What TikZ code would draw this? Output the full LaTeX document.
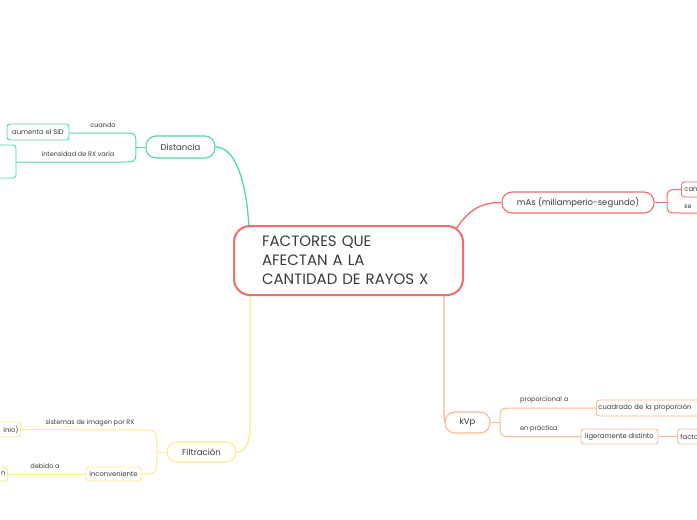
\documentclass[tikz,border=0pt]{standalone}
\usepackage{fontspec}
\setmainfont{Poppins}
\definecolor{txt}{HTML}{3A3A3A}
\definecolor{cred}{HTML}{F36B6B}
\definecolor{cgreen}{HTML}{4DD9A8}
\definecolor{cyel}{HTML}{FCEB8A}
\definecolor{corg}{HTML}{FDB98C}
\tikzset{
  mainbox/.style={draw=cred, line width=2pt, rounded corners=16pt, fill=white, text=txt,
     minimum width=229pt, minimum height=69pt, inner xsep=28pt, text width=173pt, align=left,
     font=\fontsize{15}{19}\selectfont},
  topic/.style={draw=#1, line width=1.1pt, rounded corners=10pt, fill=white, text=txt,
     inner sep=0pt, font=\fontsize{8.5}{10}\selectfont},
  sub/.style={draw=#1, line width=0.9pt, rounded corners=3pt, fill=white, text=txt,
     inner sep=0pt, font=\fontsize{6.8}{8}\selectfont},
  lbl/.style={text=txt, inner sep=0pt, font=\fontsize{6.5}{8}\selectfont},
  br/.style={draw=#1, line width=1.3pt},
  sbr/.style={draw=#1, line width=1pt},
}
\begin{document}
\begin{tikzpicture}[x=1pt,y=-1pt]
\useasboundingbox (0,0) rectangle (697,520);
\clip (0,0) rectangle (697,520);
\fill[white] (0,0) rectangle (697,520);

% main connectors (drawn first)
\coordinate (cg) at (249,228);
\coordinate (cr) at (454,232);
\coordinate (co) at (444,295);
\coordinate (cy) at (250,295);

% nodes
\node[topic=cgreen, minimum width=69pt, minimum height=22pt] (dist) at (180.5,147) {Distancia};
\node[topic=cred, minimum width=152pt, minimum height=21pt] (mas) at (578,202.5) {mAs (miliamperio-segundo)};
\node[topic=corg, minimum width=45pt, minimum height=21pt] (kvp) at (467.5,422.5) {kVp};
\node[topic=cyel, minimum width=69pt, minimum height=20pt] (filt) at (201.5,452) {Filtración};

\draw[br=cgreen] (dist.east) .. controls (238,147) and (247,190) .. (cg);
\draw[br=cred] (cr) .. controls (468,210) and (480,202.5) .. (mas.west);
\draw[br=corg] (co) -- (444,408) .. controls (444,420) and (445,422.5) .. (kvp.west);
\draw[br=cyel] (cy) -- (250,425) .. controls (250,446) and (244,452) .. (filt.east);

\node[mainbox] (main) at (348.5,260.5) {FACTORES QUE\\AFECTAN A LA\\CANTIDAD DE RAYOS X};

% Distancia branch
\node[sub=cgreen, minimum width=62pt, minimum height=16pt] (aum) at (38,132) {aumenta el SID};
\node[sub=cgreen, minimum width=56pt, minimum height=33pt] (dleft) at (-12,161.5) {};
\coordinate (dj) at (136,147);
\draw[sbr=cgreen] (dist.west) -- (dj);
\draw[sbr=cgreen] (dj) .. controls (136,133) .. (122,133) -- (aum.east |- 0,133);
\draw[sbr=cgreen] (dj) .. controls (136,162) .. (122,162) -- (dleft.east |- 0,162);
\node[lbl] (l1) at (103,125.5) {cuando};
\node[lbl] (l2) at (78,154.5) {intensidad de RX varia};

% mAs branch
\node[sub=cred, minimum width=60pt, minimum height=15pt, anchor=west, text width=54pt, align=left] (car) at (681,189.5) {can};
\coordinate (mj) at (667,202.5);
\coordinate (mend) at (705,213);
\draw[sbr=cred] (mas.east) -- (mj);
\draw[sbr=cred] (mj) .. controls (667,189.5) .. (681,189.5);
\draw[sbr=cred] (mj) .. controls (667,213) .. (681,213) -- (mend);
\node[lbl, anchor=west] (l3) at (684,207) {se};

% kVp branch
\node[sub=corg, minimum width=150pt, minimum height=16pt, anchor=west, text width=146pt, align=left] (cuad) at (596,408) {cuadrado de la proporción};
\node[sub=corg, minimum width=77pt, minimum height=15pt] (lig) at (619.5,436.5) {ligeramente distinto};
\node[sub=corg, minimum width=60pt, minimum height=15pt, anchor=west, text width=54pt, align=left] (fac) at (677,436.5) {facto};
\coordinate (kj) at (500,422.5);
\draw[sbr=corg] (kvp.east) -- (kj);
\draw[sbr=corg] (kj) .. controls (500,408) .. (514,408) -- (cuad.west);
\draw[sbr=corg] (kj) .. controls (500,436.5) .. (514,436.5) -- (lig.west);
\draw[sbr=corg] (lig.east) -- (fac.west);
\node[lbl, anchor=west] (l4) at (520,400) {proporcional a};
\node[lbl, anchor=west] (l5) at (520,429) {en práctica};

% Filtración branch
\node[sub=cyel, minimum width=60pt, minimum height=15pt, anchor=east, text width=56pt, align=right] (alu) at (21,429.5) {inio)};
\node[sub=cyel, minimum width=55pt, minimum height=14pt] (inc) at (113.5,474) {inconveniente};
\node[sub=cyel, minimum width=60pt, minimum height=14pt, anchor=east, text width=56pt, align=right] (nb) at (8,474) {n};
\coordinate (fj) at (157,452);
\draw[sbr=cyel] (filt.west) -- (fj);
\draw[sbr=cyel] (fj) .. controls (157,430) .. (140,430) -- (alu.east);
\draw[sbr=cyel] (fj) .. controls (157,474) .. (inc.east);
\draw[sbr=cyel] (inc.west) -- (nb.east);
\node[lbl] (l6) at (90,423) {sistemas de imagen por RX};
\node[lbl] (l7) at (45,466) {debido a};
\end{tikzpicture}
\end{document}
